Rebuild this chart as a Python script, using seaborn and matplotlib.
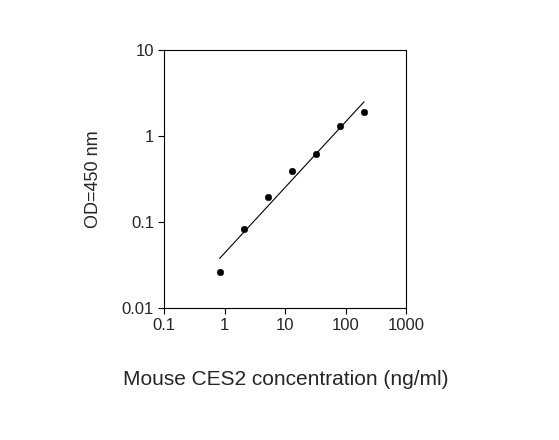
import numpy as np
import matplotlib
matplotlib.use("Agg")
import matplotlib.pyplot as plt
import seaborn as sns

conc = [0.82, 2.05, 5.1, 12.8, 32, 80, 200]
od = [0.026, 0.084, 0.194, 0.39, 0.62, 1.32, 1.93]
xticks = [0.1, 1, 10, 100, 1000]
xlabels = ["0.1", "1", "10", "100", "1000"]
yticks = [0.01, 0.1, 1, 10]
ylabels = ["0.01", "0.1", "1", "10"]

sns.set_style("ticks")
plt.rcParams['font.family'] = ['Liberation Sans', 'DejaVu Sans']
fig = plt.figure(figsize=(5.59, 4.4), dpi=100)
ax = fig.add_axes([0.294, 0.30, 0.433, 0.586])
sns.scatterplot(x=conc, y=od, ax=ax, color="black", s=22, edgecolor="black", zorder=3)
lx, ly = np.log10(conc), np.log10(od)
b, a = np.polyfit(lx, ly, 1)
fx = np.array([min(conc), max(conc)])
sns.lineplot(x=fx, y=10 ** (a + b * np.log10(fx)), ax=ax, color="black", linewidth=0.8)
ax.set_xscale("log"); ax.set_yscale("log")
ax.set_xlim(0.1, 1000); ax.set_ylim(0.01, 10)
ax.set_xticks(xticks); ax.set_xticklabels(xlabels, fontsize=12)
ax.set_yticks(yticks); ax.set_yticklabels(ylabels, fontsize=12)
ax.minorticks_off()
ax.tick_params(direction="out", length=4, color="black", width=0.8)
for s in ax.spines.values():
    s.set_visible(True); s.set_color("black"); s.set_linewidth(0.8)
ax.set_xlabel("Mouse CES2 concentration (ng/ml)", fontsize=15, labelpad=26)
ax.set_ylabel("OD=450 nm", fontsize=13, labelpad=14)
fig.savefig("out.png", dpi=100)
